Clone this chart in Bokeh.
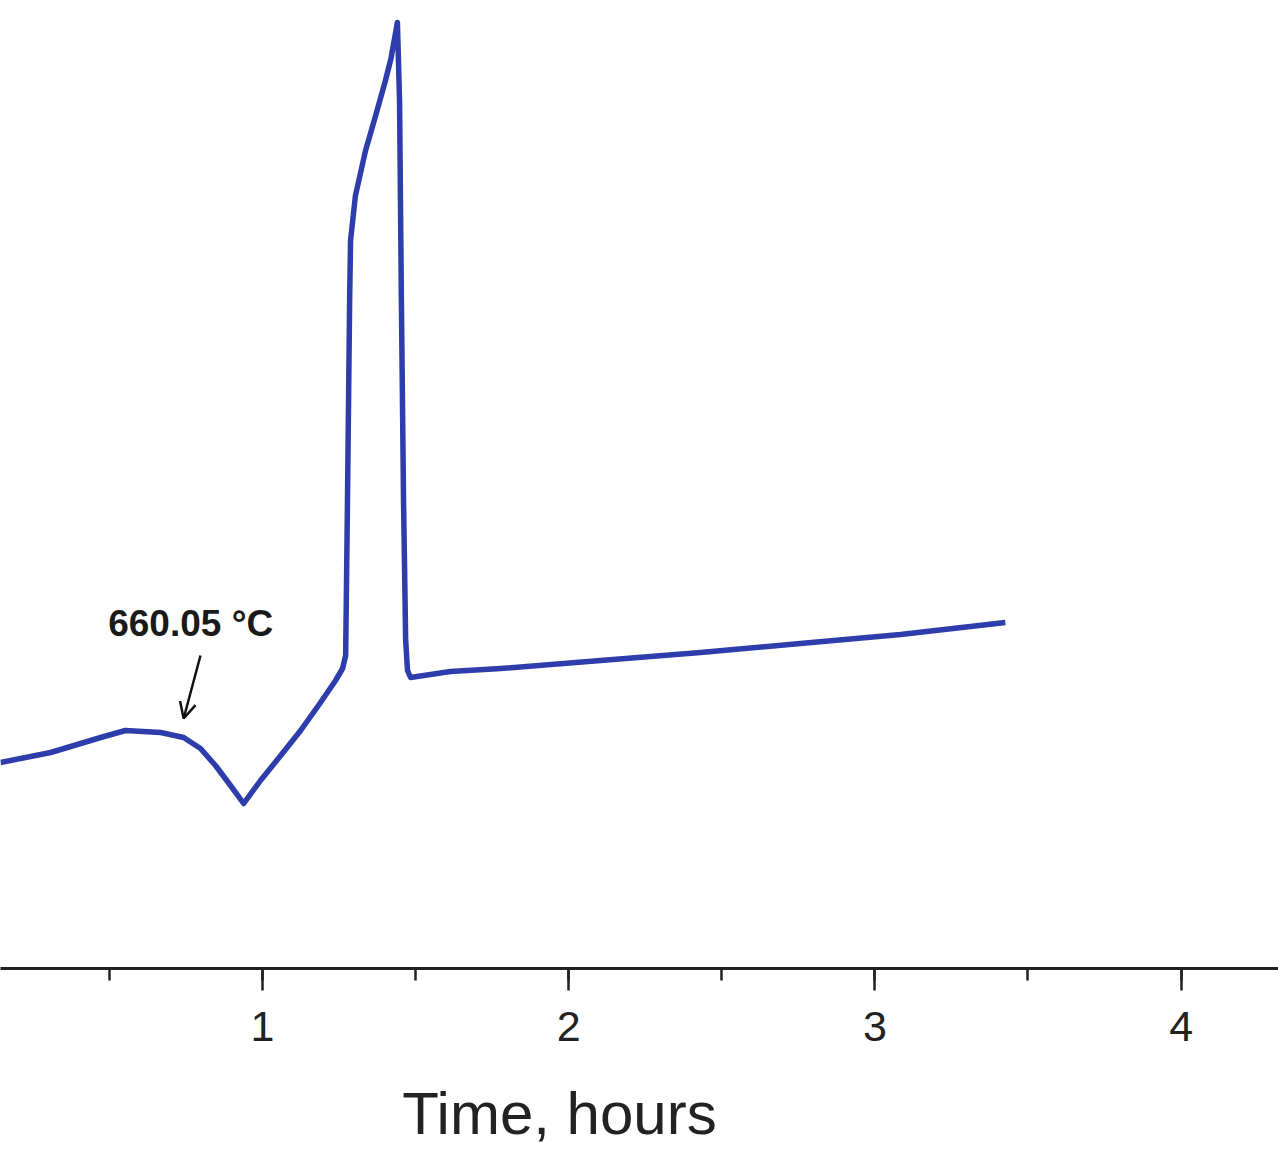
from bokeh.plotting import figure
from bokeh.layouts import column
from bokeh.models import Range1d, SingleIntervalTicker, Arrow, OpenHead, Label
from bokeh.core.properties import value
from bokeh.embed import file_html
from bokeh.resources import INLINE

# Time (hours) and signal (arbitrary units)
time_h = [0.145, 0.309, 0.472, 0.553, 0.668, 0.743, 0.798, 0.847, 0.896, 0.939,
          0.994, 1.060, 1.125, 1.190, 1.239, 1.262, 1.272, 1.278, 1.285, 1.288,
          1.304, 1.337, 1.370, 1.402, 1.420, 1.441, 1.448, 1.454, 1.461, 1.468,
          1.474, 1.484, 1.614, 1.778, 2.104, 2.431, 2.757, 3.084, 3.426]
signal = [2.06, 2.16, 2.31, 2.38, 2.36, 2.31, 2.20, 2.03, 1.83, 1.65,
          1.88, 2.13, 2.38, 2.66, 2.88, 3.00, 3.13, 4.68, 6.68, 7.28,
          7.73, 8.18, 8.53, 8.88, 9.10, 9.46, 8.68, 6.68, 4.68, 3.28,
          2.98, 2.91, 2.97, 3.00, 3.08, 3.16, 3.25, 3.34, 3.46]

annot_text = "660.05 °C"
annot_x, annot_y = 0.766, 3.45
arrow_start = (0.798, 3.13)
arrow_end = (0.743, 2.50)
x_label = "Time, hours"
x_label_pos = 1.97

xr = Range1d(0.145, 4.318)

p = figure(width=1278, height=1068, output_backend="svg", toolbar_location=None,
           x_range=xr, y_range=Range1d(0, 9.68),
           y_axis_location=None, min_border_left=0, min_border_right=0,
           min_border_top=0, min_border_bottom=100)
p.outline_line_color = None
p.grid.visible = False
p.background_fill_color = "white"
p.border_fill_color = "white"

p.line(time_h, signal, line_width=5.5, color="#2d3dac", line_join="round")

ax = p.xaxis[0]
ax.ticker = SingleIntervalTicker(interval=1, num_minor_ticks=2)
ax.axis_line_width = 3
ax.axis_line_color = "#222222"
ax.major_tick_line_width = 2.5
ax.major_tick_line_color = "#222222"
ax.minor_tick_line_width = 2.5
ax.minor_tick_line_color = "#222222"
ax.major_tick_in = 0
ax.major_tick_out = 22
ax.minor_tick_in = 0
ax.minor_tick_out = 12
ax.major_label_text_font = "Liberation Sans"
ax.major_label_text_font_size = "43px"
ax.major_label_text_color = "#222222"
ax.major_label_standoff = 21

p.add_layout(Arrow(end=OpenHead(size=16, line_width=2.5, line_color="#111111"),
                   x_start=arrow_start[0], y_start=arrow_start[1],
                   x_end=arrow_end[0], y_end=arrow_end[1],
                   line_width=2.5, line_color="#111111"))

p.add_layout(Label(x=annot_x, y=annot_y, text=annot_text, text_font="Liberation Sans",
                   text_font_style="bold", text_font_size="37px", text_color="#1a1a1a",
                   text_align="center", text_baseline="middle"))

# strip below carrying the axis title, sharing the time axis
q = figure(width=1278, height=90, output_backend="svg", toolbar_location=None,
           x_range=xr, y_range=Range1d(0, 90),
           x_axis_location=None, y_axis_location=None,
           min_border_left=0, min_border_right=0, min_border_top=0, min_border_bottom=0)
q.outline_line_color = None
q.grid.visible = False
q.text(x=[x_label_pos], y=[45], text=[x_label], text_font=value("Liberation Sans"),
       text_font_size="60px", text_color="#222222",
       text_align="center", text_baseline="middle")

layout = column(p, q, spacing=0)
open("out.html", "w").write(file_html(layout, INLINE))
